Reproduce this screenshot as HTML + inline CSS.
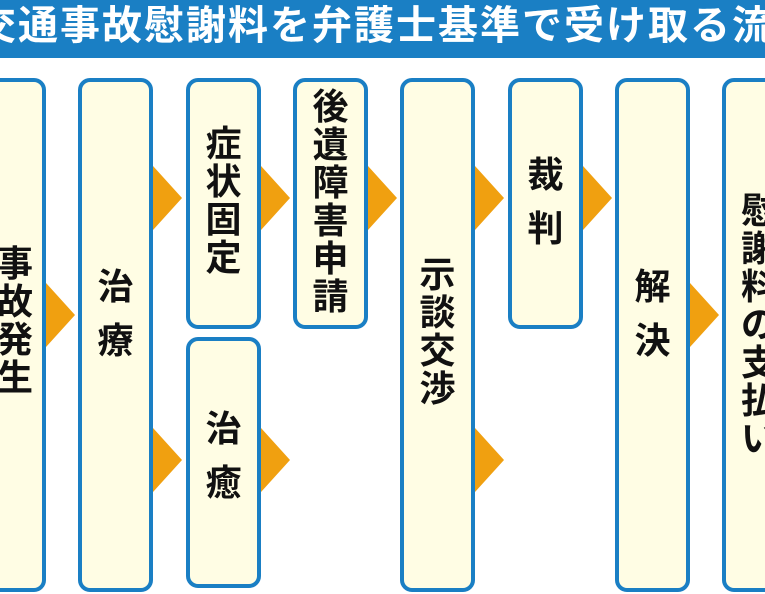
<!DOCTYPE html>
<html><head><meta charset="utf-8"><style>
body{margin:0;width:765px;height:594px;overflow:hidden;background:#fff;position:relative;font-family:"Liberation Sans","Noto Sans CJK JP",sans-serif;}
.title{position:absolute;left:0;top:0;width:765px;height:58px;background:#1a7fc4;overflow:hidden;}
.title span{position:absolute;left:-24px;top:3px;white-space:nowrap;color:#fff;font-weight:bold;font-size:40px;letter-spacing:2px;line-height:46px;}
.box{position:absolute;box-sizing:border-box;border:4px solid #1a7fc4;border-radius:12px;background:#fffde4;}
.t{position:absolute;left:0;width:100%;text-align:center;font-weight:bold;font-size:36px;color:#111;}
.t div{height:38px;line-height:38px;}
.a{position:absolute;width:0;height:0;border-top:32px solid transparent;border-bottom:32px solid transparent;border-left:29px solid #f0a010;}
</style></head><body>
<div class="title"><span>交通事故慰謝料を弁護士基準で受け取る流れ</span></div>

<div class="box" style="left:-30px;top:78px;width:76px;height:514px"><div class="t" style="top:163px;padding-left:14px;box-sizing:border-box"><div>事</div><div>故</div><div>発</div><div>生</div></div></div>
<div class="box" style="left:78px;top:78px;width:75px;height:514px"><div class="t" style="top:186px"><div style="height:54px">治</div><div>療</div></div></div>
<div class="box" style="left:186px;top:78px;width:75px;height:251px"><div class="t" style="top:43px"><div>症</div><div>状</div><div>固</div><div>定</div></div></div>
<div class="box" style="left:186px;top:337px;width:75px;height:251px"><div class="t" style="top:69px"><div style="height:54px">治</div><div>癒</div></div></div>
<div class="box" style="left:293px;top:78px;width:75px;height:251px"><div class="t" style="top:6px"><div>後</div><div>遺</div><div>障</div><div>害</div><div>申</div><div>請</div></div></div>
<div class="box" style="left:400px;top:78px;width:75px;height:514px"><div class="t" style="top:174px"><div>示</div><div>談</div><div>交</div><div>渉</div></div></div>
<div class="box" style="left:508px;top:78px;width:75px;height:251px"><div class="t" style="top:74px"><div style="height:54px">裁</div><div>判</div></div></div>
<div class="box" style="left:615px;top:78px;width:75px;height:514px"><div class="t" style="top:186px"><div style="height:54px">解</div><div>決</div></div></div>
<div class="box" style="left:722px;top:78px;width:80px;height:514px"><div class="t" style="top:110px;padding-right:6px;box-sizing:border-box"><div>慰</div><div>謝</div><div>料</div><div>の</div><div>支</div><div>払</div><div>い</div></div></div>

<div class="a" style="left:46px;top:283px"></div>
<div class="a" style="left:153px;top:166px"></div>
<div class="a" style="left:153px;top:428px"></div>
<div class="a" style="left:261px;top:166px"></div>
<div class="a" style="left:261px;top:428px"></div>
<div class="a" style="left:368px;top:166px"></div>
<div class="a" style="left:475px;top:166px"></div>
<div class="a" style="left:475px;top:428px"></div>
<div class="a" style="left:583px;top:166px"></div>
<div class="a" style="left:690px;top:283px"></div>
</body></html>
